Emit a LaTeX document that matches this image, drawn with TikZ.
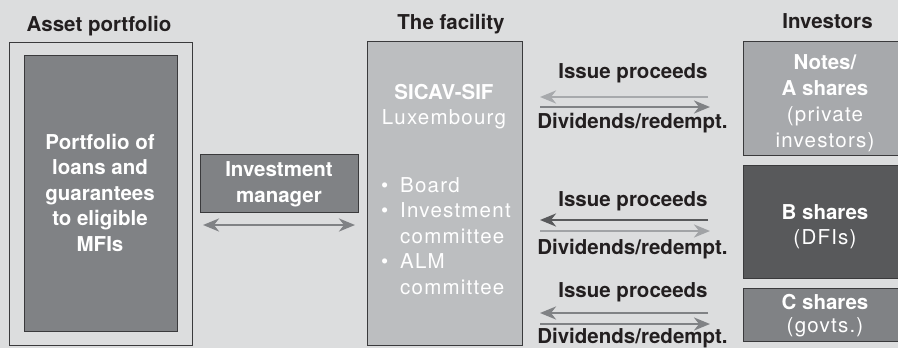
\documentclass[tikz,border=0pt]{standalone}
\usepackage{fontspec}
\setmainfont{TeX Gyre Heros}
\newfontfamily\regf[LetterSpace=6]{TeX Gyre Heros}
\usetikzlibrary{arrows.meta}
\definecolor{bg}{HTML}{DCDDDE}
\definecolor{edge}{HTML}{3A3A3C}
\definecolor{light}{HTML}{BCBEC0}
\definecolor{midl}{HTML}{A7A9AC}
\definecolor{mid}{HTML}{808285}
\definecolor{dark}{HTML}{58595B}
\definecolor{ink}{HTML}{231F20}
\newcommand\bul{\makebox[19pt][l]{\textbullet}}
\tikzset{
  box/.style={draw=edge, line width=0.9pt, inner sep=0pt, outer sep=0pt, anchor=north west},
  bfont/.style={font=\fontsize{20.5}{25.5}\selectfont\bfseries},
  title/.style={bfont, text=ink, anchor=base, inner sep=0pt},
  wtxt/.style={bfont, text=white, align=center, anchor=base, inner sep=0pt},
  lab/.style={bfont, text=ink, anchor=base, inner sep=0pt},
  arr/.style={line width=2.6pt, -{Stealth[length=16pt,width=13pt,inset=5pt]}},
  darr/.style={line width=2.6pt, {Stealth[length=16pt,width=13pt,inset=5pt]}-{Stealth[length=16pt,width=13pt,inset=5pt]}}
}
\begin{document}
\begin{tikzpicture}[x=1pt,y=-1pt]
\useasboundingbox (0,0) rectangle (898,348);
\fill[bg] (0,0) rectangle (898,348);
\clip (0,0) rectangle (898,348);

% titles
\node[title] (t1) at (99,31) {Asset portfolio};
\node[title] (t2) at (451,30) {The facility};
\node[title] (t3) at (827.5,28) {Investors};

% asset portfolio
\node[box, fill=bg, minimum width=183pt, minimum height=303pt] (asset) at (9,42) {};
\node[box, fill=mid, minimum width=153pt, minimum height=276pt] (port) at (24,55) {};
\node[wtxt] (portT) at (100,251) {Portfolio of\\loans and\\guarantees\\to eligible\\MFIs};

% investment manager
\node[box, fill=mid, minimum width=158pt, minimum height=58pt] (im) at (200,154) {};
\node[wtxt, font=\fontsize{20.5}{26}\selectfont\bfseries] (imT) at (279,202) {Investment\\manager};

% facility
\node[box, fill=light, minimum width=155pt, minimum height=304pt] (fac) at (367,41) {};
\node[wtxt, font=\fontsize{20.5}{25}\selectfont\bfseries] (facT) at (444,124) {SICAV-SIF\\{\regf\mdseries Luxembourg}};
\node[wtxt, align=left, anchor=base west, font=\fontsize{20.5}{25.5}\selectfont\regf] (facL) at (381,294)
  {\bul Board\\\bul Investment\\\hspace*{19pt}committee\\\bul ALM\\\hspace*{19pt}committee};

% investors
\node[box, fill=midl, minimum width=170pt, minimum height=114pt] (notes) at (743,41) {};
\node[wtxt, font=\fontsize{20.5}{26}\selectfont\bfseries] (notesT) at (825,147) {Notes/\\A shares\\{\regf\mdseries (private}\\{\regf\mdseries investors)}};
\node[box, fill=dark, minimum width=170pt, minimum height=113pt] (bsh) at (743,165) {};
\node[wtxt, font=\fontsize{20.5}{25}\selectfont\bfseries] (bshT) at (825,244) {B shares\\{\regf\mdseries (DFIs)}};
\node[box, fill=mid, minimum width=170pt, minimum height=53pt] (csh) at (743,288) {};
\node[wtxt, font=\fontsize{20.5}{23}\selectfont\bfseries] (cshT) at (825,332) {C shares\\{\regf\mdseries (govts.)}};

% arrow labels
\node[lab] (ip1) at (633,78) {Issue proceeds};
\node[lab] (dr1) at (632.5,128) {Dividends/redempt.};
\node[lab] (ip2) at (633,206) {Issue proceeds};
\node[lab] (dr2) at (632.5,254) {Dividends/redempt.};
\node[lab] (ip3) at (633,297) {Issue proceeds};
\node[lab] (dr3) at (632.5,343.5) {Dividends/redempt.};

% connectors
\draw[arr, midl, shorten <=35pt, shorten >=18pt] (notes.west |- 0,97) -- (fac.east |- 0,97);
\draw[arr, mid, shorten <=18pt, shorten >=33pt] (fac.east |- 0,107) -- (notes.west |- 0,107);
\draw[arr, dark, shorten <=35pt, shorten >=18pt] (bsh.west |- 0,220) -- (fac.east |- 0,220);
\draw[arr, midl!85!mid, shorten <=18pt, shorten >=33pt] (fac.east |- 0,231) -- (bsh.west |- 0,231);
\draw[arr, mid, shorten <=35pt, shorten >=18pt] (csh.west |- 0,313) -- (fac.east |- 0,313);
\draw[arr, mid, shorten <=18pt, shorten >=33pt] (fac.east |- 0,324) -- (csh.west |- 0,324);
\draw[darr, mid, shorten <=3pt, shorten >=3pt] (im.west |- 0,225) -- (im.east |- 0,225);
\end{tikzpicture}
\end{document}
